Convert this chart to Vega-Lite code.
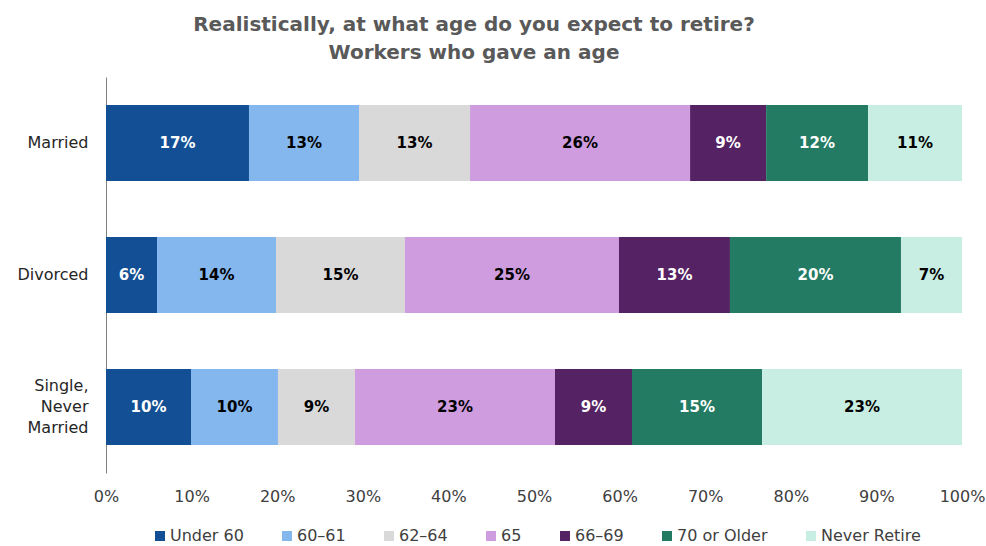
{
  "$schema": "https://vega.github.io/schema/vega-lite/v6.json",
  "width": 856,
  "height": 396,
  "autosize": {"type": "none"},
  "padding": {"left": 106, "top": 77, "right": 24, "bottom": 73},
  "background": "white",
  "title": {
    "text": ["Realistically, at what age do you expect to retire?", "Workers who gave an age"],
    "anchor": "middle",
    "dx": -60,
    "offset": 14,
    "font": "DejaVu Sans",
    "fontSize": 20,
    "fontWeight": "bold",
    "color": "#595959",
    "lineHeight": 28
  },
  "config": {
    "view": {"stroke": null},
    "font": "DejaVu Sans"
  },
  "data": {
    "values": [
      {"status": "Married", "age": "Under 60", "value": 0.167},
      {"status": "Married", "age": "60–61", "value": 0.1285},
      {"status": "Married", "age": "62–64", "value": 0.1297},
      {"status": "Married", "age": "65", "value": 0.257},
      {"status": "Married", "age": "66–69", "value": 0.0888},
      {"status": "Married", "age": "70 or Older", "value": 0.119},
      {"status": "Married", "age": "Never Retire", "value": 0.1098},
      {"status": "Divorced", "age": "Under 60", "value": 0.0596},
      {"status": "Divorced", "age": "60–61", "value": 0.139},
      {"status": "Divorced", "age": "62–64", "value": 0.1507},
      {"status": "Divorced", "age": "65", "value": 0.25},
      {"status": "Divorced", "age": "66–69", "value": 0.1297},
      {"status": "Divorced", "age": "70 or Older", "value": 0.1998},
      {"status": "Divorced", "age": "Never Retire", "value": 0.0713},
      {"status": "Single,\nNever\nMarried", "age": "Under 60", "value": 0.0993},
      {"status": "Single,\nNever\nMarried", "age": "60–61", "value": 0.1016},
      {"status": "Single,\nNever\nMarried", "age": "62–64", "value": 0.09},
      {"status": "Single,\nNever\nMarried", "age": "65", "value": 0.2336},
      {"status": "Single,\nNever\nMarried", "age": "66–69", "value": 0.09},
      {"status": "Single,\nNever\nMarried", "age": "70 or Older", "value": 0.1519},
      {"status": "Single,\nNever\nMarried", "age": "Never Retire", "value": 0.2336}
    ]
  },
  "transform": [
    {"calculate": "indexof(['Under 60','60–61','62–64','65','66–69','70 or Older','Never Retire'], datum.age)", "as": "k"},
    {"stack": "value", "groupby": ["status"], "sort": [{"field": "k", "order": "ascending"}], "offset": "normalize", "as": ["v0", "v1"]},
    {"calculate": "(datum.v0 + datum.v1) / 2", "as": "mid"}
  ],
  "encoding": {
    "y": {
      "field": "status",
      "type": "nominal",
      "sort": ["Married", "Divorced", "Single,\nNever\nMarried"],
      "scale": {"paddingInner": 0.424, "paddingOuter": 0.212},
      "axis": {
        "title": null,
        "ticks": false,
        "domain": true,
        "domainColor": "#7f7f7f",
        "domainWidth": 1,
        "labelPadding": 18,
        "labelFontSize": 16,
        "labelColor": "#262626",
        "labelFont": "DejaVu Sans",
        "labelExpr": "split(datum.label, '\\n')",
        "labelLineHeight": 21,
        "labelOffset": {"condition": {"test": "indexof(datum.value, 'Single') >= 0", "value": -21}, "value": 0}
      }
    }
  },
  "layer": [
    {
      "mark": {"type": "bar", "cornerRadius": 0},
      "encoding": {
        "x": {
          "field": "v0",
          "type": "quantitative",
          "scale": {"domain": [0, 1], "nice": false},
          "axis": {
            "title": null,
            "format": ".0%",
            "values": [0, 0.1, 0.2, 0.3, 0.4, 0.5, 0.6, 0.7, 0.8, 0.9, 1],
            "ticks": false,
            "domain": false,
            "grid": false,
            "labelFlush": false,
            "labelPadding": 15,
            "labelFontSize": 16,
            "labelColor": "#404040",
            "labelFont": "DejaVu Sans"
          }
        },
        "x2": {"field": "v1"},
        "color": {
          "field": "age",
          "type": "nominal",
          "sort": ["Under 60", "60–61", "62–64", "65", "66–69", "70 or Older", "Never Retire"],
          "scale": {
            "domain": ["Under 60", "60–61", "62–64", "65", "66–69", "70 or Older", "Never Retire"],
            "range": ["#124F94", "#85B7EF", "#D9D9D9", "#CF9CDF", "#552263", "#237B63", "#C8EEE3"]
          },
          "legend": {
            "title": null,
            "orient": "none",
            "direction": "horizontal",
            "legendX": 46,
            "legendY": 451,
            "symbolType": "square",
            "symbolSize": 100,
            "symbolStrokeWidth": 0,
            "symbolOpacity": 1,
            "labelFontSize": 16,
            "labelColor": "#404040",
            "labelFont": "DejaVu Sans",
            "labelOffset": 2,
            "columnPadding": 35
          }
        }
      }
    },
    {
      "mark": {"type": "text", "fontSize": 15, "fontWeight": "bold", "font": "DejaVu Sans", "align": "center", "baseline": "middle"},
      "encoding": {
        "x": {"field": "mid", "type": "quantitative"},
        "text": {"field": "value", "type": "quantitative", "format": ".0%"},
        "color": {
          "condition": {"test": "indexof(['Under 60','66–69','70 or Older'], datum.age) >= 0", "value": "white"},
          "value": "black"
        }
      }
    }
  ]
}
